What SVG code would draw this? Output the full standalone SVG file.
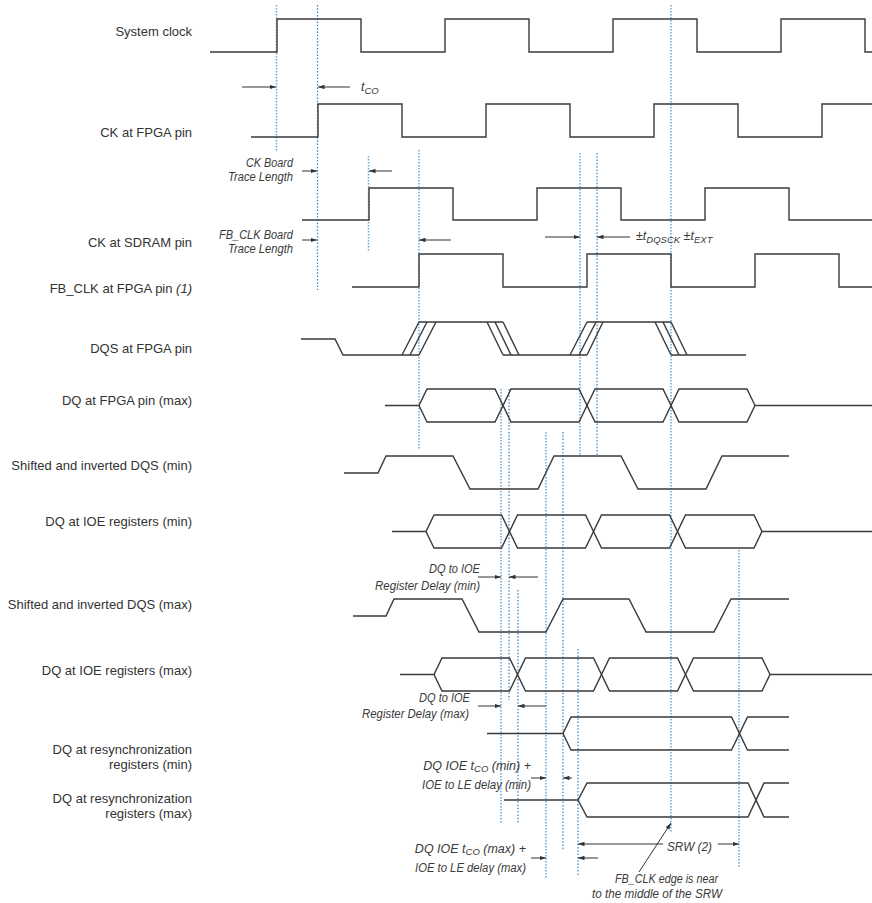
<svg xmlns="http://www.w3.org/2000/svg" width="872" height="903" viewBox="0 0 872 903">
  <style>
    .sig { fill: none; stroke: #3a3a3a; stroke-width: 1.4; stroke-linejoin: miter; }
    .lbl { font-family: "Liberation Sans", Arial, sans-serif; font-size: 13px; fill: #333; text-anchor: end; }
    .it { font-family: "Liberation Sans", Arial, sans-serif; font-size: 12.5px; font-style: italic; fill: #3a3a3a; }
    .itr { text-anchor: end; }
    .sub { font-size: 9.5px; }
    .gl { fill: none; stroke: #6aa8d8; stroke-width: 1.5; stroke-dasharray: 1.6 1.4; }
    .gd { fill: none; stroke: #2f80c6; stroke-width: 1.2; stroke-dasharray: 1.5 1.8; }
    .arr { fill: none; stroke: #333; stroke-width: 1; marker-end: url(#ah); }
  </style>
  <defs>
    <marker id="ah" markerUnits="userSpaceOnUse" markerWidth="7" markerHeight="5" refX="6.5" refY="2.2" orient="auto">
      <path d="M0,0 L6.5,2.2 L0,4.4 z" fill="#333"/>
    </marker>
  </defs>
  <rect width="872" height="903" fill="#fff"/>

  <!-- vertical timing guides -->
  <g id="guides">
    <line class="gl" x1="276.5" y1="5" x2="276.5" y2="152"/>
    <line class="gd" x1="317.5" y1="5" x2="317.5" y2="290"/>
    <line class="gl" x1="368.5" y1="156" x2="368.5" y2="252"/>
    <line class="gl" x1="419" y1="150" x2="419" y2="450"/>
    <line class="gl" x1="580" y1="153" x2="580" y2="455"/>
    <line class="gd" x1="597" y1="153" x2="597" y2="455"/>
    <line class="gl" x1="671" y1="5" x2="671" y2="833"/>
    <line class="gl" x1="501" y1="389" x2="501" y2="823"/>
    <line class="gd" x1="509" y1="389" x2="509" y2="700"/>
    <line class="gd" x1="518" y1="590" x2="518" y2="823"/>
    <line class="gl" x1="546" y1="432" x2="546" y2="878"/>
    <line class="gd" x1="563" y1="432" x2="563" y2="850"/>
    <line class="gd" x1="578" y1="649" x2="578" y2="875"/>
    <line class="gl" x1="739" y1="550" x2="739" y2="868"/>
  </g>

  <!-- signal rows -->
  <g id="system-clock">
    <text class="lbl" x="192" y="36">System clock</text>
    <path class="sig" d="M210,52 H277 V19 H361 V52 H445 V19 H529 V52 H613 V19 H697 V52 H781 V19 H865 V52 H872"/>
  </g>
  <g id="ck-fpga">
    <text class="lbl" x="192" y="137">CK at FPGA pin</text>
    <path class="sig" d="M251,137 H318 V104 H402 V137 H486 V104 H570 V137 H654 V104 H738 V137 H822 V104 H872"/>
  </g>
  <g id="ck-sdram">
    <text class="lbl" x="192" y="247">CK at SDRAM pin</text>
    <path class="sig" d="M302,220 H369 V188 H453 V220 H537 V188 H621 V220 H705 V188 H789 V220 H872"/>
  </g>
  <g id="fbclk-fpga">
    <text class="lbl" x="192" y="293">FB_CLK at FPGA pin <tspan font-style="italic">(1)</tspan></text>
    <path class="sig" d="M352,287 H419 V254 H503 V287 H587 V254 H671 V287 H755 V254 H839 V287 H872"/>
  </g>
  <g id="dqs-fpga">
    <text class="lbl" x="192" y="353">DQS at FPGA pin</text>
    <path class="sig" d="M301,339 H335 L343,355 H419 M419,322 H503 M503,355 H587 M587,322 H671 M671,355 H746"/>
    <path class="sig" d="M402,355 L419,322 M410,355 L427,322 M419,355 L436,322 M487,322 L503,355 M495,322 L511,355 M503,322 L519,355 M570,355 L587,322 M579,355 L596,322 M587,355 L603,322 M655,322 L671,355 M663,322 L679,355 M671,322 L687,355"/>
  </g>
  <g id="dq-fpga-max">
    <text class="lbl" x="192" y="405">DQ at FPGA pin (max)</text>
    <path class="sig" d="M385,405.5 H419 L427,389 H495 L511,422 H579 L595,389 H663 L679,422 H747 L755,405.5 H872"/>
    <path class="sig" d="M419,405.5 L427,422 H495 L511,389 H579 L595,422 H663 L679,389 H747 L755,405.5"/>
  </g>
  <g id="dqs-shift-min">
    <text class="lbl" x="192" y="470">Shifted and inverted DQS (min)</text>
    <path class="sig" d="M344,473 H378 L386,456 H453 L470,489 H538 L554,456 H621 L638,489 H706 L722,456 H789"/>
  </g>
  <g id="dq-ioe-min">
    <text class="lbl" x="192" y="526">DQ at IOE registers (min)</text>
    <path class="sig" d="M392,531.5 H426 L434,515 H501.5 L517.5,548 H585.5 L601.5,515 H669.5 L685.5,548 H754 L762,531.5 H872"/>
    <path class="sig" d="M426,531.5 L434,548 H501.5 L517.5,515 H585.5 L601.5,548 H669.5 L685.5,515 H754 L762,531.5"/>
  </g>
  <g id="dqs-shift-max">
    <text class="lbl" x="192" y="609">Shifted and inverted DQS (max)</text>
    <path class="sig" d="M353,616 H386 L394,599 H462 L479,632 H546 L563,599 H629 L646,632 H714 L731,599 H789"/>
  </g>
  <g id="dq-ioe-max">
    <text class="lbl" x="192" y="675">DQ at IOE registers (max)</text>
    <path class="sig" d="M400,674.5 H434 L442,658 H509.5 L525.5,691 H593.5 L609.5,658 H677.5 L693.5,691 H762 L770,674.5 H872"/>
    <path class="sig" d="M434,674.5 L442,691 H509.5 L525.5,658 H593.5 L609.5,691 H677.5 L693.5,658 H762 L770,674.5"/>
  </g>
  <g id="dq-resync-min">
    <text class="lbl" x="192" y="754">DQ at resynchronization</text>
    <text class="lbl" x="192" y="769">registers (min)</text>
    <path class="sig" d="M487,733.5 H563 L571,717 H731.5 L747.5,750 H789 M563,733.5 L571,750 H731.5 L747.5,717 H789"/>
  </g>
  <g id="dq-resync-max">
    <text class="lbl" x="192" y="803">DQ at resynchronization</text>
    <text class="lbl" x="192" y="818">registers (max)</text>
    <path class="sig" d="M504,800 H578 L587,783 H748 L764,817 H789 M578,800 L587,817 H748 L764,783 H789"/>
  </g>

  <!-- delay arrows and their notes -->
  <g id="connectors">
    <path class="arr" d="M242,87 H276"/>
    <path class="arr" d="M350,87 H318"/>
    <path class="arr" d="M302,171 H317"/>
    <path class="arr" d="M392,171 H369"/>
    <path class="arr" d="M302,240 H317"/>
    <path class="arr" d="M451,240 H419"/>
    <path class="arr" d="M545,237 H580"/>
    <path class="arr" d="M630,237 H597"/>
    <path class="arr" d="M478,577 H501"/>
    <path class="arr" d="M538,577 H509"/>
    <path class="arr" d="M478,706 H501"/>
    <path class="arr" d="M546,706 H518"/>
    <path class="arr" d="M531,778 H546"/>
    <path class="arr" d="M572,778 H563"/>
    <path class="arr" d="M531,858 H546"/>
    <path class="arr" d="M598,858 H578"/>
    <path class="arr" d="M663,844 H578"/>
    <path class="arr" d="M718,844 H739"/>
    <path class="arr" d="M639,872 L671,823"/>
  </g>

  <g id="notes">
    <text class="it" x="361" y="91" font-size="14">t<tspan class="sub" dy="3" font-size="11">CO</tspan></text>
    <text class="it itr" x="293" y="166.5" textLength="47" lengthAdjust="spacingAndGlyphs">CK Board</text>
    <text class="it itr" x="293" y="180.5" textLength="65" lengthAdjust="spacingAndGlyphs">Trace Length</text>
    <text class="it itr" x="293" y="238.5" textLength="74" lengthAdjust="spacingAndGlyphs">FB_CLK Board</text>
    <text class="it itr" x="293" y="252.5" textLength="65" lengthAdjust="spacingAndGlyphs">Trace Length</text>
    <text class="it" x="636" y="240" font-size="11.5">±t<tspan class="sub" dy="3" font-size="9">DQSCK</tspan><tspan dy="-3"> ±t</tspan><tspan class="sub" dy="3" font-size="9">EXT</tspan></text>
    <text class="it itr" x="480" y="573" textLength="51" lengthAdjust="spacingAndGlyphs">DQ to IOE</text>
    <text class="it itr" x="480" y="590" textLength="105" lengthAdjust="spacingAndGlyphs">Register Delay (min)</text>
    <text class="it itr" x="470" y="702" textLength="51" lengthAdjust="spacingAndGlyphs">DQ to IOE</text>
    <text class="it itr" x="469" y="718" textLength="107" lengthAdjust="spacingAndGlyphs">Register Delay (max)</text>
    <text class="it itr" x="531" y="770" font-size="11.8">DQ IOE t<tspan class="sub" dy="1.5" font-size="9">CO</tspan><tspan dy="-1.5"> (min) +</tspan></text>
    <text class="it itr" x="531" y="789" textLength="109" lengthAdjust="spacingAndGlyphs">IOE to LE delay (min)</text>
    <text class="it itr" x="526" y="853" font-size="11.8">DQ IOE t<tspan class="sub" dy="1.5" font-size="9">CO</tspan><tspan dy="-1.5"> (max) +</tspan></text>
    <text class="it itr" x="526" y="872" textLength="111" lengthAdjust="spacingAndGlyphs">IOE to LE delay (max)</text>
    <text class="it" x="667" y="851" textLength="45" lengthAdjust="spacingAndGlyphs">SRW (2)</text>
    <text class="it" x="615" y="883" textLength="103" lengthAdjust="spacingAndGlyphs">FB_CLK edge is near</text>
    <text class="it" x="592" y="898" textLength="130" lengthAdjust="spacingAndGlyphs">to the middle of the SRW</text>
  </g>
</svg>
